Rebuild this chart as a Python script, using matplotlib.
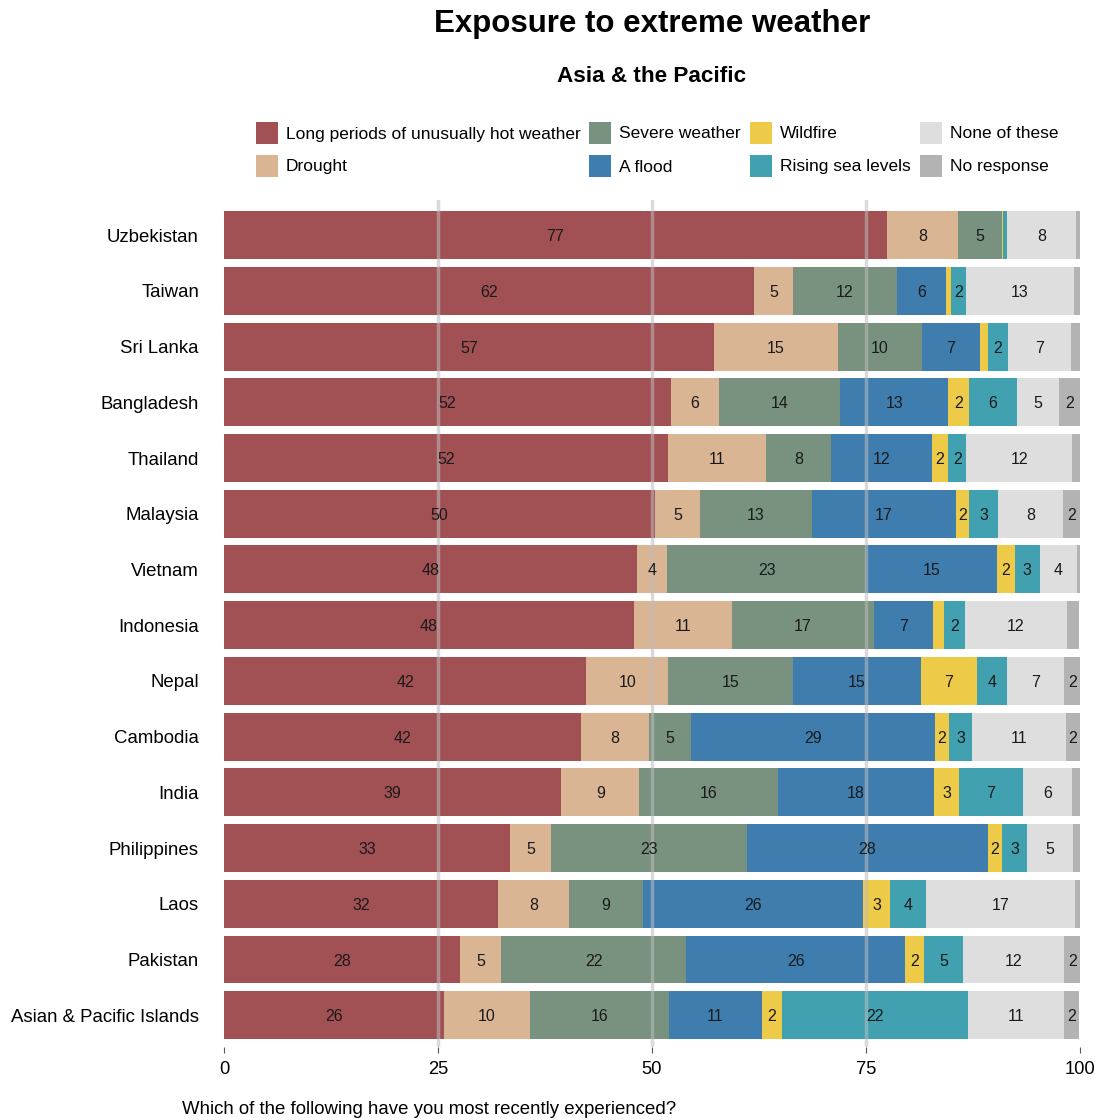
import matplotlib
matplotlib.use("Agg")
import matplotlib.pyplot as plt
from matplotlib.patches import Rectangle
import numpy as np

plt.rcParams['font.family'] = ['Liberation Sans', 'DejaVu Sans']

countries = ["Uzbekistan", "Taiwan", "Sri Lanka", "Bangladesh", "Thailand", "Malaysia",
             "Vietnam", "Indonesia", "Nepal", "Cambodia", "India", "Philippines",
             "Laos", "Pakistan", "Asian & Pacific Islands"]

categories = ["Long periods of unusually hot weather", "Drought", "Severe weather",
              "A flood", "Wildfire", "Rising sea levels", "None of these", "No response"]

hot      = [77.45, 61.9, 57.2, 52.2, 51.9, 50.35, 48.2, 47.9, 42.3, 41.7, 39.4, 33.4, 32.0, 27.6, 25.7]
drought  = [8.3, 4.6, 14.5, 5.6, 11.4, 5.25, 3.6, 11.45, 9.6, 7.95, 9.1, 4.8, 8.3, 4.8, 10.05]
severe   = [5.1, 12.1, 9.8, 14.2, 7.6, 13.1, 23.2, 16.6, 14.6, 4.9, 16.2, 22.9, 8.65, 21.6, 16.2]
flood    = [0.0, 5.8, 6.8, 12.6, 11.8, 16.8, 15.35, 6.85, 14.9, 28.5, 18.2, 28.15, 25.7, 25.6, 10.9]
wildfire = [0.15, 0.5, 0.93, 2.4, 1.9, 1.55, 2.0, 1.35, 6.55, 1.65, 3.0, 1.65, 3.15, 2.2, 2.3]
sealevel = [0.45, 1.75, 2.37, 5.6, 2.1, 3.4, 2.95, 2.4, 3.55, 2.7, 7.4, 2.95, 4.2, 4.55, 21.8]
none     = [8.1, 12.7, 7.3, 5.0, 12.4, 7.6, 4.3, 11.9, 6.65, 10.95, 5.8, 5.3, 17.4, 11.8, 11.2]
noresp   = [0.45, 0.6, 1.05, 2.4, 0.9, 1.9, 0.45, 1.45, 1.9, 1.65, 0.85, 0.85, 0.6, 1.9, 1.75]

series = [hot, drought, severe, flood, wildfire, sealevel, none, noresp]
colors = ["#a15054", "#d9b594", "#79917f", "#3f7daf", "#edca47", "#41a1b1", "#dedede", "#b3b3b3"]

xticks = [0, 25, 50, 75, 100]

fig = plt.figure(figsize=(11, 11.2), dpi=100)
W, H = 1100, 1120
ax = fig.add_axes([224 / W, 1 - 1047 / H, (1080 - 224) / W, (1047 - 200) / H])

y = np.arange(len(countries))
left = np.zeros(len(countries))
for vals, col in zip(series, colors):
    vals = np.array(vals)
    ax.barh(y, vals, left=left, height=0.86, color=col, edgecolor='none', zorder=2)
    for i, v in enumerate(vals):
        if v >= 1.5:
            ax.text(left[i] + v / 2, y[i], str(int(np.floor(v + 0.5))), ha='center',
                    va='center_baseline', fontsize=11.5, color='#1a1a1a', zorder=4)
    left += vals

for xt in xticks[1:-1]:
    ax.axvline(xt, color='#bdbdbd', alpha=0.55, lw=2.5, zorder=3)

ax.set_xlim(0, 100)
ax.set_ylim(len(countries) - 1 + 0.57, -0.63)
ax.set_yticks(y)
ax.set_yticklabels(countries, fontsize=13.4)
ax.set_xticks(xticks)
ax.set_xticklabels([str(t) for t in xticks], fontsize=13.2)
ax.tick_params(axis='y', length=0, pad=18)
ax.tick_params(axis='x', length=4, width=0.8, color='#555555', pad=6)
for s in ax.spines.values():
    s.set_visible(False)

fig.text(652 / W, 1 - 24 / H, "Exposure to extreme weather", ha='center', va='center',
         fontsize=22.5, fontweight='bold')
fig.text(652 / W, 1 - 77 / H, "Asia & the Pacific", ha='center', va='center',
         fontsize=16.2, fontweight='bold')
fig.text(182 / W, 1 - 1109 / H, "Which of the following have you most recently experienced?",
         ha='left', va='center', fontsize=13.4)

# legend, laid out column-wise like the original
col_x = [256, 589, 750, 920]
row_y = [133, 166]
for k, (lab, col) in enumerate(zip(categories, colors)):
    cx = col_x[k // 2]
    cy = row_y[k % 2]
    fig.add_artist(Rectangle((cx / W, 1 - (cy + 11) / H), 22 / W, 22 / H,
                             transform=fig.transFigure, facecolor=col, edgecolor='none'))
    fig.text((cx + 30) / W, 1 - (cy + 1) / H, lab, ha='left', va='center', fontsize=12.5)

fig.savefig("out.png", dpi=100)
